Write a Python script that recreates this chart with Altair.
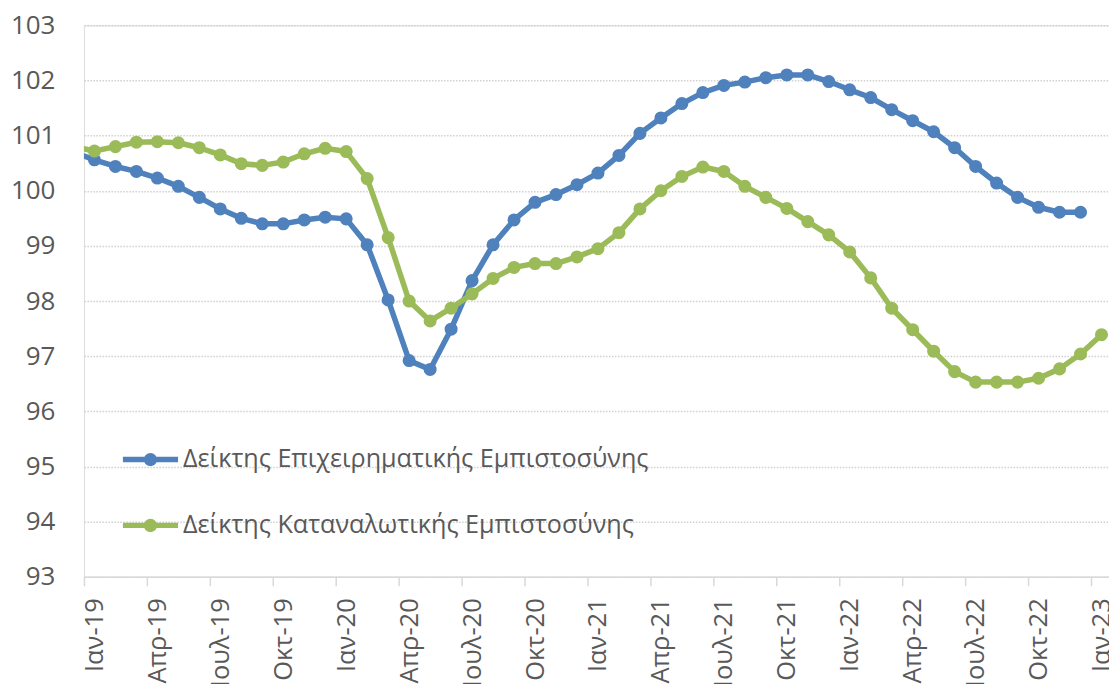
import json
import altair as alt
import pandas as pd

# Months from Dec-2018 (only the connecting line enters the plot) to Jan-2023
MONTHS = [
    "2018-12",
    "2019-01", "2019-02", "2019-03", "2019-04", "2019-05", "2019-06",
    "2019-07", "2019-08", "2019-09", "2019-10", "2019-11", "2019-12",
    "2020-01", "2020-02", "2020-03", "2020-04", "2020-05", "2020-06",
    "2020-07", "2020-08", "2020-09", "2020-10", "2020-11", "2020-12",
    "2021-01", "2021-02", "2021-03", "2021-04", "2021-05", "2021-06",
    "2021-07", "2021-08", "2021-09", "2021-10", "2021-11", "2021-12",
    "2022-01", "2022-02", "2022-03", "2022-04", "2022-05", "2022-06",
    "2022-07", "2022-08", "2022-09", "2022-10", "2022-11", "2022-12",
    "2023-01",
]

SERIES_NAMES = [
    "Δείκτης Επιχειρηματικής Εμπιστοσύνης",
    "Δείκτης Καταναλωτικής Εμπιστοσύνης",
]
SERIES_COLORS = ["#4F81BD", "#9BBB59"]

BUSINESS = [
    100.70,
    100.56, 100.44, 100.35, 100.23, 100.08, 99.88, 99.67, 99.50, 99.40, 99.40, 99.47, 99.52,
    99.49, 99.02, 98.02, 96.92, 96.76, 97.49, 98.37, 99.02, 99.47, 99.79, 99.93, 100.11,
    100.32, 100.64, 101.04, 101.32, 101.58, 101.78, 101.91, 101.97, 102.05, 102.10, 102.10, 101.98,
    101.83, 101.69, 101.47, 101.27, 101.07, 100.78, 100.44, 100.14, 99.88, 99.70, 99.61, 99.61,
    None,
]

CONSUMER = [
    100.80,
    100.72, 100.80, 100.88, 100.89, 100.87, 100.78, 100.65, 100.49, 100.46, 100.52, 100.67, 100.77,
    100.71, 100.22, 99.15, 98.00, 97.64, 97.87, 98.13, 98.41, 98.61, 98.68, 98.68, 98.80,
    98.95, 99.24, 99.67, 100.00, 100.26, 100.43, 100.35, 100.08, 99.88, 99.68, 99.44, 99.20,
    98.89, 98.42, 97.87, 97.48, 97.09, 96.72, 96.53, 96.53, 96.53, 96.60, 96.77, 97.04,
    97.39,
]

TICK_LABELS = [
    "Ιαν-19", "Απρ-19", "Ιουλ-19", "Οκτ-19",
    "Ιαν-20", "Απρ-20", "Ιουλ-20", "Οκτ-20",
    "Ιαν-21", "Απρ-21", "Ιουλ-21", "Οκτ-21",
    "Ιαν-22", "Απρ-22", "Ιουλ-22", "Οκτ-22",
    "Ιαν-23",
]

rows = []
for name, values in zip(SERIES_NAMES, [BUSINESS, CONSUMER]):
    for i, (m, v) in enumerate(zip(MONTHS, values)):
        if v is None:
            continue
        rows.append({"month": m, "idx": i - 1, "series": name, "value": v})
df = pd.DataFrame(rows)

FONT = "Open Sans"
TEXT_COLOR = "#595959"
GRID_COLOR = "#D0D0D0"
AXIS_COLOR = "#D9D9D9"

label_expr = json.dumps(TICK_LABELS, ensure_ascii=False) + "[round(datum.value / 3)]"

x_enc = alt.X(
    "pos:Q",
    title=None,
    scale=alt.Scale(domain=[0, 49], nice=False, zero=False),
    axis=alt.Axis(
        values=list(range(0, 49, 3)),
        labelExpr=label_expr,
        labelAngle=270,
        labelOffset=10.5,
        labelPadding=12,
        labelFont=FONT,
        labelFontSize=25.5,
        labelColor=TEXT_COLOR,
        labelFlush=False,
        labelOverlap=False,
        labelBound=False,
        tickSize=9,
        tickColor=AXIS_COLOR,
        tickWidth=1.5,
        domainColor=AXIS_COLOR,
        domainWidth=1.5,
        grid=False,
    ),
)

y_enc = alt.Y(
    "value:Q",
    title=None,
    scale=alt.Scale(domain=[93, 103], nice=False, zero=False),
    axis=alt.Axis(
        values=list(range(93, 104)),
        labelFont=FONT,
        labelFontSize=26,
        labelColor=TEXT_COLOR,
        labelPadding=29,
        ticks=False,
        domain=False,
        grid=True,
        gridColor=GRID_COLOR,
        gridWidth=1.5,
        gridDash=[1.5, 1.5],
        minExtent=76,
        maxExtent=76,
    ),
)

color_scale = alt.Scale(domain=SERIES_NAMES, range=SERIES_COLORS)

LEGEND_SYMBOL = (
    "M-2.3,-0.22L2.3,-0.22L2.3,0.22L-2.3,0.22Z"
    "M-0.55,0A0.55,0.55 0 1,1 0.55,0A0.55,0.55 0 1,1 -0.55,0Z"
)

base = alt.Chart(df).transform_calculate(pos="datum.idx + 0.5")

lines = base.mark_line(strokeWidth=5.5, clip=True, strokeJoin="round").encode(
    x=x_enc,
    y=y_enc,
    color=alt.Color("series:N", scale=color_scale, legend=None),
    detail="series:N",
)

points = base.transform_filter("datum.idx >= 0").mark_circle(size=170, opacity=1).encode(
    x=x_enc,
    y=y_enc,
    color=alt.Color(
        "series:N",
        scale=color_scale,
        legend=alt.Legend(
            title=None,
            orient="none",
            legendX=54,
            legendY=422,
            padding=0,
            symbolType=LEGEND_SYMBOL,
            symbolSize=576,
            symbolStrokeWidth=0,
            symbolOpacity=1,
            labelFont=FONT,
            labelFontSize=25.2,
            labelColor=TEXT_COLOR,
            labelOffset=20,
            labelLimit=0,
            rowPadding=40,
        ),
    ),
)

chart = (
    alt.layer(lines, points)
    .resolve_legend(color="independent")
    .properties(width=1029, height=552, padding={"left": 0, "top": 4, "right": -6, "bottom": 0})
    .configure_view(stroke=None)
    .configure(background="white")
)

chart.save("out.html", embed_options={"renderer": "svg", "actions": False})
